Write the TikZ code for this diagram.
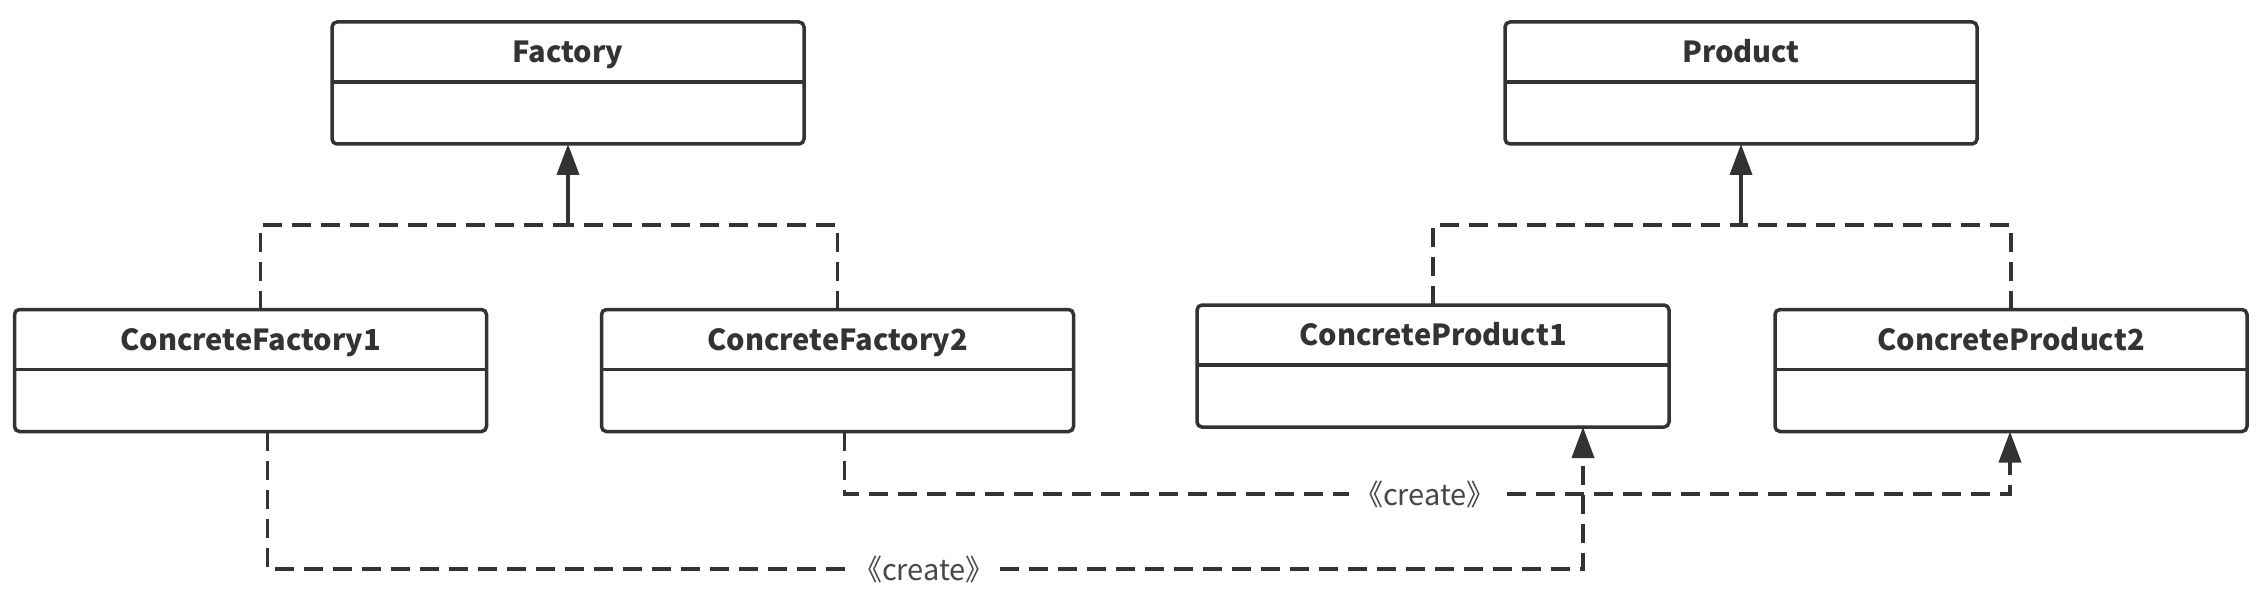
\documentclass[tikz,border=0pt]{standalone}
\usepackage{fontspec}
\setmainfont{Noto Sans CJK SC}
\usetikzlibrary{arrows.meta}
\definecolor{ink}{HTML}{333333}
\begin{document}
\begin{tikzpicture}[x=1pt,y=-1pt,
  classbox/.style={draw=ink,line width=3.5pt,rounded corners=5pt,minimum width=472pt,minimum height=122pt,inner sep=0pt,outer sep=0pt},
  title/.style={font=\fontsize{29}{34}\selectfont\bfseries,text=ink,anchor=base,inner sep=0pt},
  divider/.style={draw=ink,line width=3.5pt},
  dep/.style={draw=ink,line width=3.8pt,dash pattern=on 19pt off 10pt},
  solidline/.style={draw=ink,line width=3.8pt},
  tip/.style={-{Triangle[length=31pt,width=22pt]}},
  lbl/.style={fill=white,font=\fontsize{29}{32}\selectfont,text=ink!90,inner sep=5pt}]
\useasboundingbox (0,0) rectangle (2264,596);
% classes
\node[classbox] (F)   at (568,83)    {};
\node[classbox] (P)   at (1741,83)   {};
\node[classbox] (CF1) at (250.5,370.5) {};
\node[classbox] (CF2) at (837.5,370.5) {};
\node[classbox] (CP1) at (1433,366)  {};
\node[classbox] (CP2) at (2011,370.5) {};
\foreach \n/\t in {F/Factory,P/Product,CF1/ConcreteFactory1,CF2/ConcreteFactory2,CP1/ConcreteProduct1,CP2/ConcreteProduct2}{
  \node[title] (\n t) at ([yshift=-40.5pt]\n.north) {\t};
  \draw[divider] ([yshift=-60pt]\n.north west) -- ([yshift=-60pt]\n.north east);
}
% inheritance
\coordinate (jf) at (568,225);
\coordinate (jp) at (1741,225);
\draw[dep] ([xshift=10pt]CF1.north) |- (jf);
\draw[dep] (CF2.north) |- (jf);
\draw[solidline,tip] (jf) -- (F.south);
\draw[dep] (CP1.north) |- (jp);
\draw[dep] (CP2.north) |- (jp);
\draw[solidline,tip] (jp) -- (P.south);
% create dependencies
\coordinate (c1) at (1583,569);
\coordinate (c2) at (2010,494);
\draw[dep,tip] ([xshift=17pt]CF1.south) |- (c1) -- ([xshift=150pt]CP1.south);
\draw[dep,tip] ([xshift=7pt]CF2.south) |- (c2) -- ([xshift=-1pt]CP2.south);
\node[lbl] (l1) at (924,569) {《create》};
\node[lbl] (l2) at (1425,494) {《create》};
\end{tikzpicture}
\end{document}
